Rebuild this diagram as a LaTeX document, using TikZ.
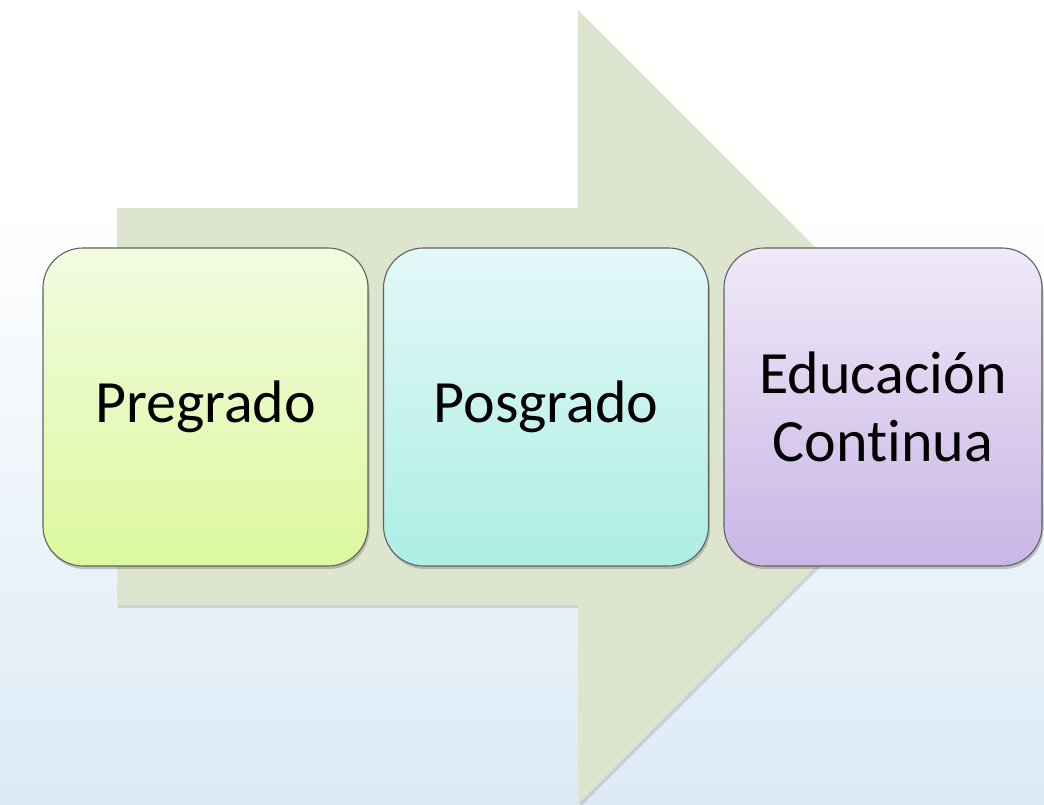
\documentclass[tikz,border=0pt]{standalone}
\usepackage{fontspec}
\setmainfont[Ligatures=NoCommon]{Carlito}
\usepackage{xcolor}
\usetikzlibrary{shadows}

\definecolor{arrowgreen}{HTML}{DEE5CF}
\definecolor{bgblue}{HTML}{DCEAF5}
\definecolor{pretop}{HTML}{F2FBE1}
\definecolor{prebot}{HTML}{DCF99E}
\definecolor{postop}{HTML}{E3F8F8}
\definecolor{posbot}{HTML}{ACEEE4}
\definecolor{edutop}{HTML}{EFE9F8}
\definecolor{edubot}{HTML}{CAB5E5}

\begin{document}
\begin{tikzpicture}[x=1pt,y=1pt,
  stagebox/.style={draw=black!62,line width=1.1pt,rounded corners=40pt,
    minimum height=318pt,inner sep=0pt,outer sep=0pt,align=center,
    font=\fontsize{60}{68}\selectfont,
    drop shadow={shadow xshift=1.5pt,shadow yshift=-3pt,opacity=0.35,fill=black!60}}]
\useasboundingbox (0,0) rectangle (1044,-804);

% background
\fill[white] (0,0) rectangle (1044,-804);
\shade[top color=white,bottom color=bgblue] (0,-205) rectangle (1044,-804);

% big arrow behind the stages
\fill[black!40,opacity=0.35] (118,-211) -- (580,-211) -- (580,-13) -- (977,-410)
  -- (580,-807) -- (580,-608) -- (118,-608) -- cycle;
\fill[arrowgreen] (117,-208) -- (578,-208) -- (578,-10) -- (975,-407)
  -- (578,-804) -- (578,-605) -- (117,-605) -- cycle;

% stages
\node[stagebox,minimum width=325pt,top color=pretop,bottom color=prebot]
  (pregrado) at (205.5,-407) {Pregrado};
\node[stagebox,minimum width=325pt,top color=postop,bottom color=posbot]
  (posgrado) at (546,-407) {Posgrado};
\node[stagebox,minimum width=318pt,top color=edutop,bottom color=edubot]
  (educacion) at (883,-407) {Educación\\Continua};
\end{tikzpicture}
\end{document}
